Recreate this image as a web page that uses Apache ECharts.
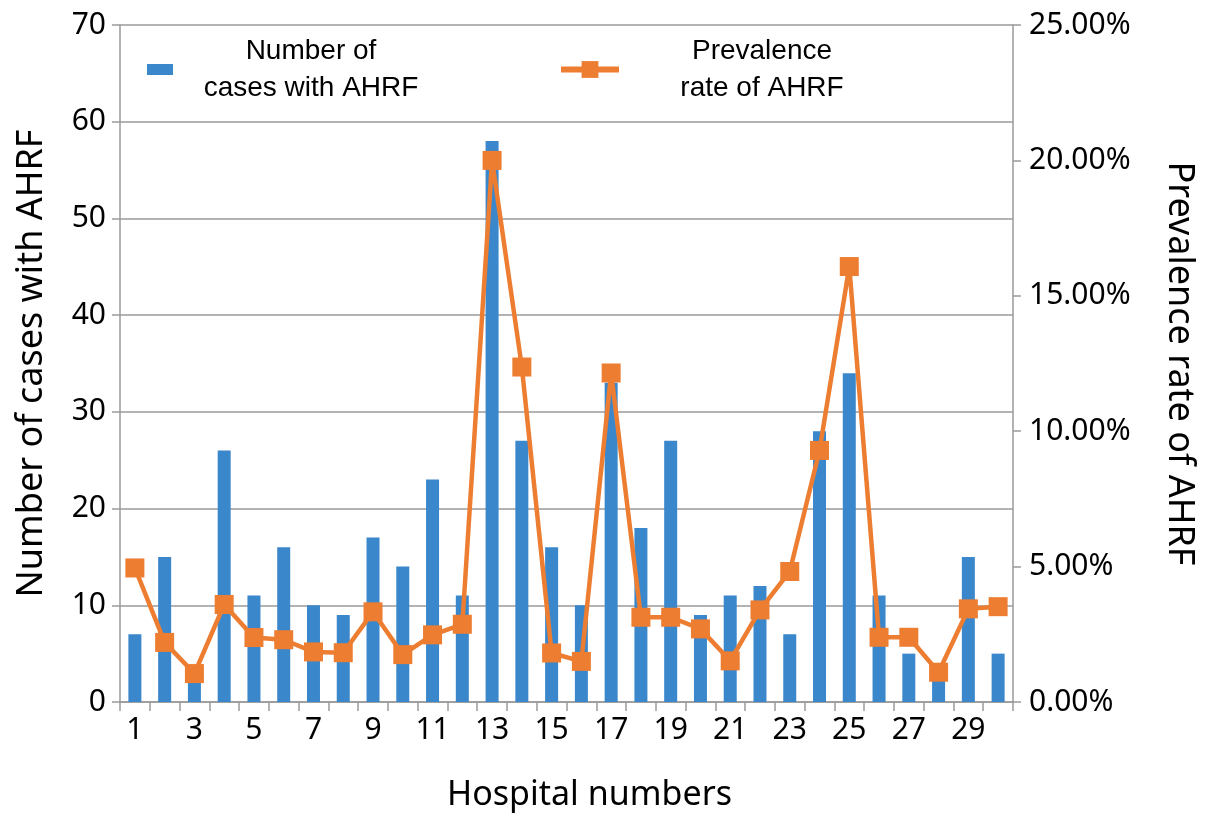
<!DOCTYPE html>
<html>
<head>
<meta charset="utf-8">
<script src="https://cdn.jsdelivr.net/npm/echarts@6/dist/echarts.min.js"></script>
<style>
html,body{margin:0;padding:0;background:#fff;}
#chart{width:1205px;height:824px;}
</style>
</head>
<body>
<div id="chart"></div>
<script>
const hospitals = ['1','2','3','4','5','6','7','8','9','10','11','12','13','14','15','16','17','18','19','20','21','22','23','24','25','26','27','28','29','30'];
const casesAHRF = [7,15,3,26,11,16,10,9,17,14,23,11,58,27,16,10,33,18,27,9,11,12,7,28,34,11,5,3,15,5];
const prevalenceAHRF = [4.95,2.2,1.05,3.6,2.38,2.3,1.85,1.82,3.33,1.75,2.48,2.87,20.0,12.37,1.81,1.5,12.15,3.13,3.13,2.7,1.52,3.4,4.82,9.29,16.08,2.39,2.39,1.1,3.44,3.52];
const leftTicks = [0,70,10];
const rightTicks = [0,25,5];
const casesName = 'Number of cases with AHRF';
const prevName = 'Prevalence rate of AHRF';
const legendLines = {};
legendLines[casesName] = ['Number of','cases with AHRF'];
legendLines[prevName] = ['Prevalence','rate of AHRF'];

const chart = echarts.init(document.getElementById('chart'));
const gray = '#9a9a9a';
const labelFont = {fontFamily:'Noto Sans', fontSize:30, color:'#000'};
function legendFmt(name){ return legendLines[name].map(s => '{a|' + s + '}').join('\n'); }
chart.setOption({
  animation:false,
  backgroundColor:'#fff',
  grid:{left:120, right:185, top:25, bottom:122, containLabel:false},
  legend:[
    {data:[casesName], left:147, top:37, padding:0, icon:'rect', itemWidth:26, itemHeight:11, itemGap:0, selectedMode:false,
     formatter:legendFmt,
     textStyle:{rich:{a:{width:266, align:'center', fontFamily:'Liberation Sans', fontSize:28, lineHeight:37, color:'#000'}}}},
    {data:[prevName], left:558, top:37, padding:0, itemWidth:58, itemHeight:21, itemGap:0, selectedMode:false,
     lineStyle:{width:6},
     formatter:legendFmt,
     textStyle:{rich:{a:{width:276, align:'center', fontFamily:'Liberation Sans', fontSize:28, lineHeight:37, color:'#000'}}}}
  ],
  xAxis:{
    type:'category', data:hospitals, boundaryGap:true,
    name:'Hospital numbers', nameLocation:'middle', nameGap:76,
    nameTextStyle:{fontFamily:'Noto Sans', fontSize:34, color:'#000', padding:[0,0,0,46]},
    axisLine:{lineStyle:{color:gray, width:1.5}},
    axisTick:{show:true, interval:0, length:9, lineStyle:{color:gray, width:1.5}},
    axisLabel:Object.assign({interval:1, margin:13}, labelFont),
    splitLine:{show:false}
  },
  yAxis:[
    {type:'value', min:leftTicks[0], max:leftTicks[1], interval:leftTicks[2],
     name:casesName, nameLocation:'middle', nameGap:70,
     nameTextStyle:{fontFamily:'Noto Sans', fontSize:36, color:'#000'},
     axisLine:{show:true, lineStyle:{color:gray, width:1.5}},
     axisTick:{show:true, length:8, lineStyle:{color:gray, width:1.5}},
     axisLabel:Object.assign({margin:14}, labelFont),
     splitLine:{show:true, lineStyle:{color:gray, width:1.5}}},
    {type:'value', min:rightTicks[0], max:rightTicks[1], interval:rightTicks[2], position:'right',
     name:prevName, nameLocation:'middle', nameGap:148, nameRotate:-90,
     nameTextStyle:{fontFamily:'Noto Sans', fontSize:36, color:'#000'},
     axisLine:{show:true, lineStyle:{color:gray, width:1.5}},
     axisTick:{show:true, length:8, lineStyle:{color:gray, width:1.5}},
     axisLabel:Object.assign({margin:16, formatter:v => v.toFixed(2) + '%'}, labelFont),
     splitLine:{show:false}}
  ],
  series:[
    {name:casesName, type:'bar', data:casesAHRF, yAxisIndex:0, barWidth:13,
     itemStyle:{color:'#3a87cb'}},
    {name:prevName, type:'line', data:prevalenceAHRF, yAxisIndex:1,
     symbol:'rect', symbolSize:19, showAllSymbol:true,
     lineStyle:{color:'#ed7d31', width:4.5},
     itemStyle:{color:'#ed7d31'}}
  ]
});
</script>
</body>
</html>
